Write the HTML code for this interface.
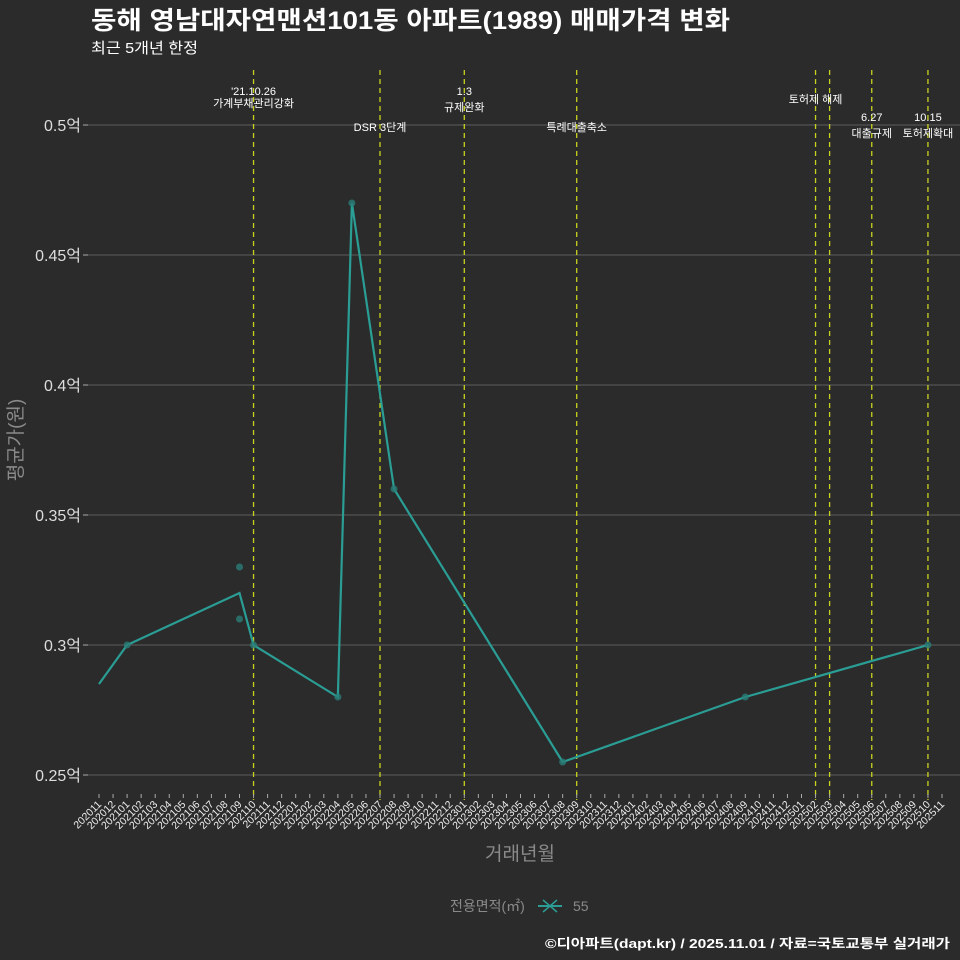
<!DOCTYPE html>
<html><head><meta charset="utf-8">
<style>
html,body{margin:0;padding:0;background:#2b2b2c;}
svg{display:block;font-family:"Liberation Sans","Noto Sans CJK KR",sans-serif;}
</style></head>
<body>
<svg id="chart" width="960" height="960" viewBox="0 0 960 960" xmlns="http://www.w3.org/2000/svg">
<rect width="960" height="960" fill="#2b2b2c"/>
<text x="91" y="29" font-size="25" font-weight="bold" fill="#ffffff" textLength="639" lengthAdjust="spacingAndGlyphs">동해 영남대자연맨션101동 아파트(1989) 매매가격 변화</text>
<text x="91" y="53" font-size="15" fill="#ffffff" textLength="107" lengthAdjust="spacingAndGlyphs">최근 5개년 한정</text>
<g id="grid"></g>
<g id="events"></g>
<g id="series"></g>
<g id="xaxis"></g>
<text x="520" y="860" font-size="19" fill="#8a8a8a" text-anchor="middle">거래년월</text>
<text transform="translate(22,440) rotate(-90)" font-size="19" fill="#8a8a8a" text-anchor="middle">평균가(원)</text>
<g>
<text x="450" y="911" font-size="14" fill="#8a8a8a">전용면적(㎡)</text>
<g>
<line x1="538" y1="906" x2="562" y2="906" stroke="#2a9d94" stroke-width="2"/>
<line x1="543" y1="900" x2="557" y2="912" stroke="#2a9d94" stroke-width="1.5"/>
<line x1="543" y1="912" x2="557" y2="900" stroke="#2a9d94" stroke-width="1.5"/>
<text x="573" y="911" font-size="14" fill="#8a8a8a">55</text>
</g>
</g>
<text x="950" y="948" font-size="13" font-weight="bold" fill="#ffffff" text-anchor="end" textLength="405" lengthAdjust="spacingAndGlyphs">©디아파트(dapt.kr) / 2025.11.01 / 자료=국토교통부 실거래가</text>
</svg>
<script>
const months = [];
for (let y = 2020, m = 11; months.length < 61; ) { months.push(String(y) + String(m).padStart(2,'0')); m++; if (m > 12) { m = 1; y++; } }
const yTicks = [0.25, 0.3, 0.35, 0.4, 0.45, 0.5];
const yTickLabels = ['0.25억','0.3억','0.35억','0.4억','0.45억','0.5억'];
const lineMonths = ['202011','202101','202109','202110','202204','202205','202208','202308','202409','202510'];
const lineValues = [0.285, 0.30, 0.32, 0.30, 0.28, 0.47, 0.36, 0.255, 0.28, 0.30];
const pointMonths = ['202101','202109','202109','202110','202204','202205','202208','202308','202409','202510'];
const pointValues = [0.30, 0.33, 0.31, 0.30, 0.28, 0.47, 0.36, 0.255, 0.28, 0.30];
const eventMonths = ['202110','202207','202301','202309','202502','202503','202506','202510'];
const eventLine1 = ["'21.10.26", '', '1.3', '', '토허제 해제', '', '6.27', '10.15'];
const eventLine2 = ['가계부채관리강화', 'DSR 3단계', '규제완화', '특례대출축소', '', '', '대출규제', '토허제확대'];

const NS = 'http://www.w3.org/2000/svg';
const x0 = 99, xStep = (942 - 99) / 60;
const xScale = mth => x0 + months.indexOf(mth) * xStep;
const yScale = v => 775 - (v - 0.25) / 0.05 * 130;
function mk(tag, attrs, parent, text) {
  const e = document.createElementNS(NS, tag);
  for (const k in attrs) e.setAttribute(k, attrs[k]);
  if (text !== undefined) e.textContent = text;
  parent.appendChild(e); return e;
}
const grid = document.getElementById('grid');
yTicks.forEach((v, i) => {
  const y = yScale(v);
  const l = mk('line', {x1: 88, x2: 960, y1: y, y2: y, stroke: '#5e5e5e', 'stroke-width': 1}, grid);
  
  
  mk('line', {x1: 83, x2: 88, y1: y, y2: y, stroke: '#aaaaaa'}, grid);
  const t = mk('text', {x: 81, y: y + 6, 'font-size': 16, fill: '#dddddd', 'text-anchor': 'end'}, grid, yTickLabels[i]);
  
  
});
const ev = document.getElementById('events');
eventMonths.forEach((m, i) => {
  const x = xScale(m);
  const l = mk('line', {x1: x, x2: x, y1: 70, y2: 800, stroke: '#c8d21e', 'stroke-width': 1.3, 'stroke-dasharray': '5,4'}, ev);
  
  
});
const labelPos = [[253,147,107],[380,0,131],[464,95,111],[577,0,131],[816,103,0],[830,0,0],[872,121,137],[928,121,137]];
eventMonths.forEach((m, i) => {
  const x = xScale(m);
  const p = labelPos[i];
  if (eventLine1[i]) {
    const y1 = i === 0 ? 95 : p[1];
    const t = mk('text', {x: x, y: y1, 'font-size': 11, fill: '#ffffff', 'text-anchor': 'middle'}, ev, eventLine1[i]);
    
    
  }
  if (eventLine2[i]) {
    const t = mk('text', {x: x, y: p[2], 'font-size': 11, fill: '#ffffff', 'text-anchor': 'middle'}, ev, eventLine2[i]);
    
    
  }
});
const ser = document.getElementById('series');
const pts = lineMonths.map((m, i) => xScale(m) + ',' + yScale(lineValues[i])).join(' ');
const pl = mk('polyline', {points: pts, fill: 'none', stroke: '#2a9d94', 'stroke-width': 2.2}, ser);


pointMonths.forEach((m, i) => {
  const c = mk('circle', {cx: xScale(m), cy: yScale(pointValues[i]), r: 3.5, fill: '#2a7e78', 'fill-opacity': 0.8}, ser);
  
  
});
const xa = document.getElementById('xaxis');
months.forEach((m, i) => {
  const x = xScale(m);
  mk('line', {x1: x, x2: x, y1: 794, y2: 798, stroke: '#aaaaaa'}, xa);
  const t = mk('text', {x: x + 3, y: 805, 'font-size': 10.5, fill: '#eeeeee', 'text-anchor': 'end', transform: 'rotate(-45,' + (x + 3) + ',805)'}, xa, m);
  
  
});
</script>
</body></html>
